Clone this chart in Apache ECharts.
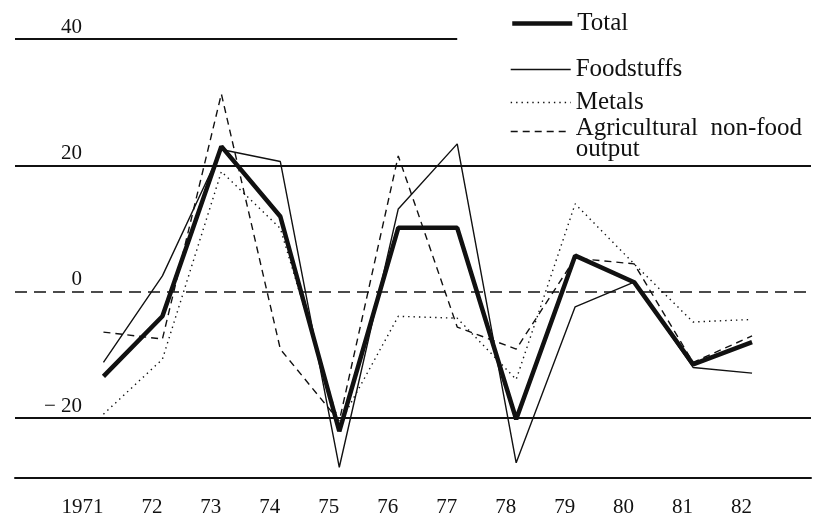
<!DOCTYPE html>
<html>
<head>
<meta charset="utf-8">
<script src="https://cdn.jsdelivr.net/npm/echarts@6/dist/echarts.min.js"></script>
<style>html,body{margin:0;padding:0;background:#fff}#c{width:814px;height:520px}</style>
</head>
<body>
<div id="c"></div>
<script>
// ---- data ----
const years = [1971, 1972, 1973, 1974, 1975, 1976, 1977, 1978, 1979, 1980, 1981, 1982];
const xLabels = ['1971', '72', '73', '74', '75', '76', '77', '78', '79', '80', '81', '82'];
const total = [-13.4, -3.9, 23.0, 11.9, -22.1, 10.1, 10.1, -20.2, 5.7, 1.5, -11.5, -8.0];
const foodstuffs = [-11.2, 2.5, 22.5, 20.6, -27.8, 13.1, 23.4, -27.1, -2.4, 1.5, -12.0, -12.9];
const metals = [-19.4, -10.7, 19.0, 10.0, -21.0, -3.9, -4.2, -13.9, 13.9, 4.4, -4.8, -4.4];
const agri = [-6.4, -7.5, 31.3, -9.1, -20.5, 21.5, -5.6, -9.1, 5.3, 4.4, -11.2, -7.0];
const yTicks = [40, 20, 0, -20];
const yTickText = ['40', '20', '0', '\u2212 20'];
const topLineEndYear = 1977;
const seriesNames = ['Total', 'Foodstuffs', 'Metals', 'Agricultural non-food output'];

// ---- chart ----
const FONT = 'Liberation Serif';
const X_MIN = 1969.5, X_MAX = 1983;
const pairs = arr => arr.map((v, i) => [years[i], v]);

const solidLines = yTicks.filter(v => v !== 0).map(v => {
  if (v === yTicks[0]) return [{ coord: [X_MIN, v] }, { coord: [topLineEndYear, v] }];
  return { yAxis: v };
});
const dashedLines = yTicks.filter(v => v === 0).map(v => ({ yAxis: v }));

const chart = echarts.init(document.getElementById('c'));
const legendTops = [6, 52, 85, 98];
const legendWidths = [4.5, 1.4, 1.4, 1.4];
chart.setOption({
  animation: false,
  backgroundColor: '#fff',
  grid: { left: 15, right: 0, top: 39, bottom: 42 },
  xAxis: {
    type: 'value', min: X_MIN, max: X_MAX, interval: 0.5,
    axisLine: { show: true, onZero: false, lineStyle: { color: '#111', width: 2 } },
    axisTick: { show: false },
    splitLine: { show: false },
    axisLabel: {
      margin: 19, align: 'right', color: '#111', fontFamily: FONT, fontSize: 21,
      formatter: v => { const i = years.indexOf(v); return i >= 0 ? xLabels[i] : ''; }
    }
  },
  yAxis: {
    type: 'value', min: -29.5, max: 40, interval: 0.5,
    axisLine: { show: false }, axisTick: { show: false }, splitLine: { show: false },
    axisLabel: {
      inside: true, margin: 67, align: 'right', verticalAlign: 'bottom',
      color: '#111', fontFamily: FONT, fontSize: 21, lineHeight: 24,
      formatter: v => { const i = yTicks.indexOf(v); return i >= 0 ? yTickText[i] : ''; }
    }
  },
  legend: seriesNames.map((n, i) => ({
    data: [n], orient: 'vertical', left: 505, top: legendTops[i],
    itemWidth: 60, itemHeight: 12, selectedMode: false,
    itemStyle: { opacity: 0 },
    lineStyle: { width: legendWidths[i] },
    textStyle: {
      color: '#111', fontFamily: FONT, fontSize: 25, lineHeight: 21,
      rich: {
        a: { color: '#111', fontFamily: FONT, fontSize: 25, lineHeight: 21 },
        s: { fontSize: 1, lineHeight: 15 }
      }
    },
    formatter: name => name === seriesNames[3]
      ? '{s| }\n{a|Agricultural  non-food}\n{a|output}'
      : '{a|' + name + '}'
  })),
  series: [
    {
      name: seriesNames[1], type: 'line', data: pairs(foodstuffs), symbol: 'none',
      itemStyle: { color: '#111' },
      lineStyle: { color: '#111', width: 1.4, type: 'solid' }, z: 3,
      markLine: {
        silent: true, symbol: 'none', label: { show: false }, z: 1,
        lineStyle: { color: '#111', width: 1.6, type: [12, 7] },
        data: dashedLines
      }
    },
    {
      name: seriesNames[2], type: 'line', data: pairs(metals), symbol: 'none',
      itemStyle: { color: '#111' },
      lineStyle: { color: '#111', width: 1.4, type: [1.4, 4] }, z: 3
    },
    {
      name: seriesNames[3], type: 'line', data: pairs(agri), symbol: 'none',
      itemStyle: { color: '#111' },
      lineStyle: { color: '#111', width: 1.4, type: [7, 5] }, z: 3
    },
    {
      name: seriesNames[0], type: 'line', data: pairs(total), symbol: 'none',
      itemStyle: { color: '#111' },
      lineStyle: { color: '#111', width: 4.5 }, z: 4,
      markLine: {
        silent: true, symbol: 'none', label: { show: false }, z: 1,
        lineStyle: { color: '#111', width: 2, type: 'solid' },
        data: solidLines
      }
    }
  ]
});
</script>
</body>
</html>
